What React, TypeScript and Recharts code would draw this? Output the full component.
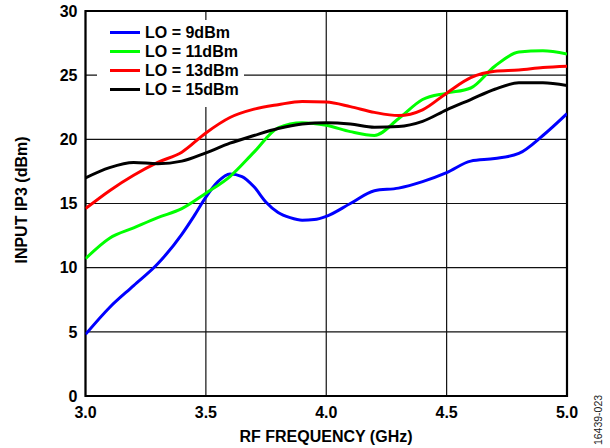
import { LineChart, Line, XAxis, YAxis, CartesianGrid, ReferenceArea, Legend } from "recharts";

const FREQ = [3.0, 3.1, 3.2, 3.3, 3.4, 3.5, 3.6, 3.7, 3.8, 3.9, 4.0, 4.1, 4.2, 4.3, 4.4, 4.5, 4.6, 4.7, 4.8, 4.9, 5.0];
const LO11 = [10.7, 12.3, 13.1, 13.9, 14.6, 15.8, 17.1, 19.0, 20.9, 21.3, 21.1, 20.6, 20.3, 21.6, 23.1, 23.6, 24.0, 25.7, 26.8, 26.9, 26.65];
const LO13 = [14.6, 16.0, 17.2, 18.2, 19.0, 20.5, 21.7, 22.35, 22.7, 22.95, 22.9, 22.55, 22.1, 21.85, 22.3, 23.6, 24.8, 25.3, 25.4, 25.6, 25.7];
const LO15 = [17.0, 17.8, 18.2, 18.1, 18.3, 18.95, 19.7, 20.3, 20.85, 21.2, 21.3, 21.2, 20.95, 21.0, 21.4, 22.3, 23.1, 23.9, 24.4, 24.4, 24.2];

// LO = 9dBm has a sharp bump near 3.6 GHz, so it is read at a finer step there
const FREQ_LO9 = [3.0, 3.1, 3.2, 3.3, 3.4, 3.45, 3.5, 3.55, 3.6, 3.65, 3.7, 3.75, 3.8, 3.85, 3.9, 3.95, 4.0, 4.1, 4.2, 4.3, 4.4, 4.5, 4.6, 4.7, 4.8, 4.9, 5.0];
const LO9 = [4.8, 6.9, 8.6, 10.3, 12.6, 14.0, 15.5, 16.7, 17.3, 17.1, 16.3, 15.1, 14.3, 13.9, 13.7, 13.75, 14.0, 15.0, 16.0, 16.2, 16.7, 17.4, 18.3, 18.5, 18.9, 20.3, 22.0];

const X_TICKS = [3.0, 3.5, 4.0, 4.5, 5.0];
const Y_TICKS = [0, 5, 10, 15, 20, 25, 30];

const SERIES = [
  { name: "LO = 9dBm", color: "#0000ff", freq: FREQ_LO9, values: LO9 },
  { name: "LO = 11dBm", color: "#00ff00", freq: FREQ, values: LO11 },
  { name: "LO = 13dBm", color: "#ff0000", freq: FREQ, values: LO13 },
  { name: "LO = 15dBm", color: "#000000", freq: FREQ, values: LO15 },
];
const ORDER = SERIES.map((s) => s.name);

const FONT = '"Liberation Sans", Arial, sans-serif';
const tickStyle = { fill: "#000", fontSize: 16, fontWeight: 700, fontFamily: FONT };

function LegendBox({ payload }: any) {
  const items = [...(payload || [])].sort((a: any, b: any) => ORDER.indexOf(a.value) - ORDER.indexOf(b.value));
  return (
    <div style={{ background: "#fff", width: 147, height: 87, paddingTop: 3, paddingLeft: 13, boxSizing: "border-box" }}>
      {items.map((p: any) => (
        <div key={p.value} style={{ display: "flex", alignItems: "center", height: 19 }}>
          <span style={{ width: 30, height: 3, background: p.color, marginRight: 5, display: "inline-block" }} />
          <span style={{ fontFamily: FONT, fontWeight: 700, fontSize: 16, lineHeight: "19px", color: "#000" }}>{p.value}</span>
        </div>
      ))}
    </div>
  );
}

export default function App() {
  return (
    <div style={{ position: "absolute", left: 0, top: 0, width: 610, height: 448, background: "#fff", fontFamily: FONT }}>
      <LineChart width={610} height={448} margin={{ top: 11, right: 43, bottom: 0, left: 0 }}>
        <CartesianGrid stroke="#111" strokeWidth={1.2} />
        <XAxis
          type="number"
          dataKey="f"
          domain={[3, 5]}
          ticks={X_TICKS}
          tickFormatter={(v: number) => v.toFixed(1)}
          height={52}
          axisLine={false}
          tickLine={false}
          tickSize={0}
          tickMargin={11}
          tick={tickStyle}
          allowDataOverflow
        />
        <YAxis
          type="number"
          domain={[0, 30]}
          ticks={Y_TICKS}
          width={85.5}
          axisLine={false}
          tickLine={false}
          tickSize={0}
          tickMargin={8}
          tick={tickStyle}
          allowDataOverflow
        />
        <ReferenceArea x1={3} x2={5} y1={0} y2={30} fill="none" stroke="#000" strokeWidth={2.2} ifOverflow="visible" />
        {SERIES.map((s) => (
          <Line
            key={s.name}
            name={s.name}
            data={s.freq.map((f, i) => ({ f, v: s.values[i] }))}
            dataKey="v"
            type="monotone"
            stroke={s.color}
            strokeWidth={3}
            dot={false}
            activeDot={false}
            isAnimationActive={false}
          />
        ))}
        <Legend
          layout="vertical"
          align="center"
          verticalAlign="middle"
          content={<LegendBox />}
          wrapperStyle={{ left: 97, top: 20, width: 147, height: 87 }}
        />
      </LineChart>
      <div
        style={{
          position: "absolute",
          left: 326,
          top: 437,
          transform: "translate(-50%, -50%)",
          fontSize: 16,
          fontWeight: 700,
          whiteSpace: "nowrap",
        }}
      >
        RF FREQUENCY (GHz)
      </div>
      <div
        style={{
          position: "absolute",
          left: 22,
          top: 200,
          transform: "translate(-50%, -50%) rotate(-90deg)",
          fontSize: 16,
          fontWeight: 700,
          whiteSpace: "nowrap",
        }}
      >
        INPUT IP3 (dBm)
      </div>
      <div
        style={{
          position: "absolute",
          left: 598,
          top: 420,
          transform: "translate(-50%, -50%) rotate(-90deg)",
          fontSize: 10.5,
          color: "#222",
          whiteSpace: "nowrap",
        }}
      >
        16439-023
      </div>
    </div>
  );
}
